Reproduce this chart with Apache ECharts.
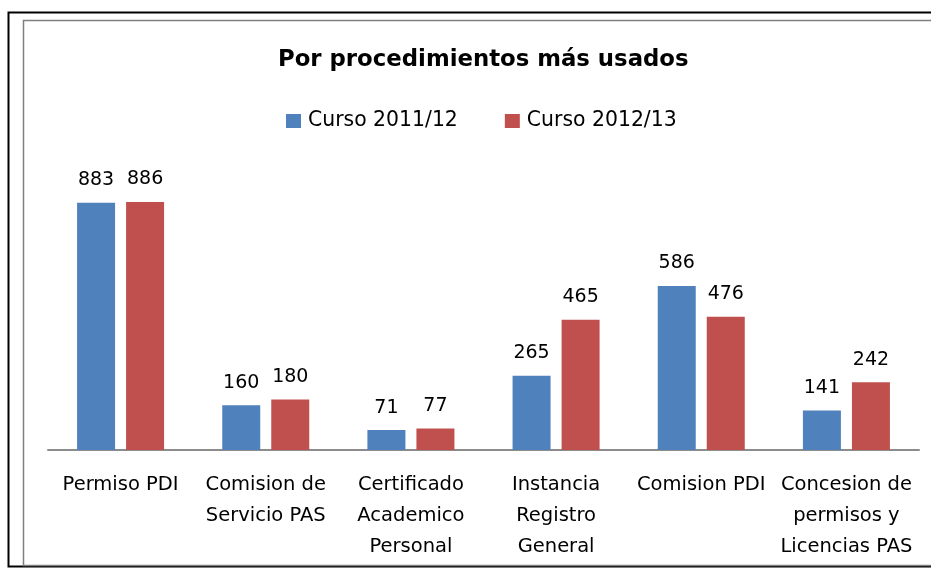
<!DOCTYPE html>
<html>
<head>
<meta charset="utf-8">
<script src="https://cdn.jsdelivr.net/npm/echarts@6/dist/echarts.min.js"></script>
<style>
  html, body { margin: 0; padding: 0; background: #fff; }
  #chart { width: 931px; height: 568px; }
</style>
</head>
<body>
<div id="chart"></div>
<script>
// datos
var categorias = ['Permiso PDI', 'Comision de\nServicio PAS', 'Certificado\nAcademico\nPersonal',
  'Instancia\nRegistro\nGeneral', 'Comision PDI', 'Concesion de\npermisos y\nLicencias PAS'];
var curso1112 = [883, 160, 71, 265, 586, 141];
var curso1213 = [886, 180, 77, 465, 476, 242];
var nombres = ['Curso 2011/12', 'Curso 2012/13'];

var fuente = 'DejaVu Sans';
var chart = echarts.init(document.getElementById('chart'));

var option = {
  animation: false,
  title: {
    text: 'Por procedimientos más usados',
    left: 273,
    top: 44,
    textStyle: { fontFamily: fuente, fontSize: 22.8, fontWeight: 'bold', color: '#000' }
  },
  legend: {
    data: nombres,
    top: 106,
    left: 281,
    itemWidth: 15,
    itemHeight: 14,
    itemGap: 47,
    icon: 'rect',
    textStyle: { fontFamily: fuente, fontSize: 20.4, color: '#000', padding: [0, 0, 0, 2] }
  },
  grid: { left: 48, right: 12, top: 170, bottom: 118 },
  xAxis: {
    type: 'category',
    data: categorias,
    axisTick: { show: false },
    axisLine: { lineStyle: { color: '#8c8c8c', width: 2 } },
    axisLabel: {
      interval: 0,
      margin: 19,
      fontFamily: fuente,
      fontSize: 19.5,
      lineHeight: 31,
      color: '#000'
    }
  },
  yAxis: {
    type: 'value',
    min: 0,
    max: 1000,
    show: false,
    splitLine: { show: false }
  },
  series: [
    {
      name: nombres[0],
      type: 'bar',
      data: curso1112,
      barWidth: 38,
      barGap: '29%',
      itemStyle: { color: '#4f81bd' },
      label: { show: true, position: 'top', distance: 13, fontFamily: fuente, fontSize: 19, color: '#000' }
    },
    {
      name: nombres[1],
      type: 'bar',
      data: curso1213,
      barWidth: 38,
      barGap: '29%',
      itemStyle: { color: '#c0504d' },
      label: { show: true, position: 'top', distance: 13, fontFamily: fuente, fontSize: 19, color: '#000' }
    }
  ],
  graphic: [
    {
      type: 'rect',
      shape: { x: 8.5, y: 12.5, width: 940, height: 554 },
      style: { fill: 'none', stroke: '#000', lineWidth: 2 }
    },
    {
      type: 'rect',
      shape: { x: 23.5, y: 20.5, width: 930, height: 545 },
      style: { fill: 'none', stroke: '#7f7f7f', lineWidth: 1.5 }
    }
  ]
};

chart.setOption(option);
</script>
</body>
</html>
